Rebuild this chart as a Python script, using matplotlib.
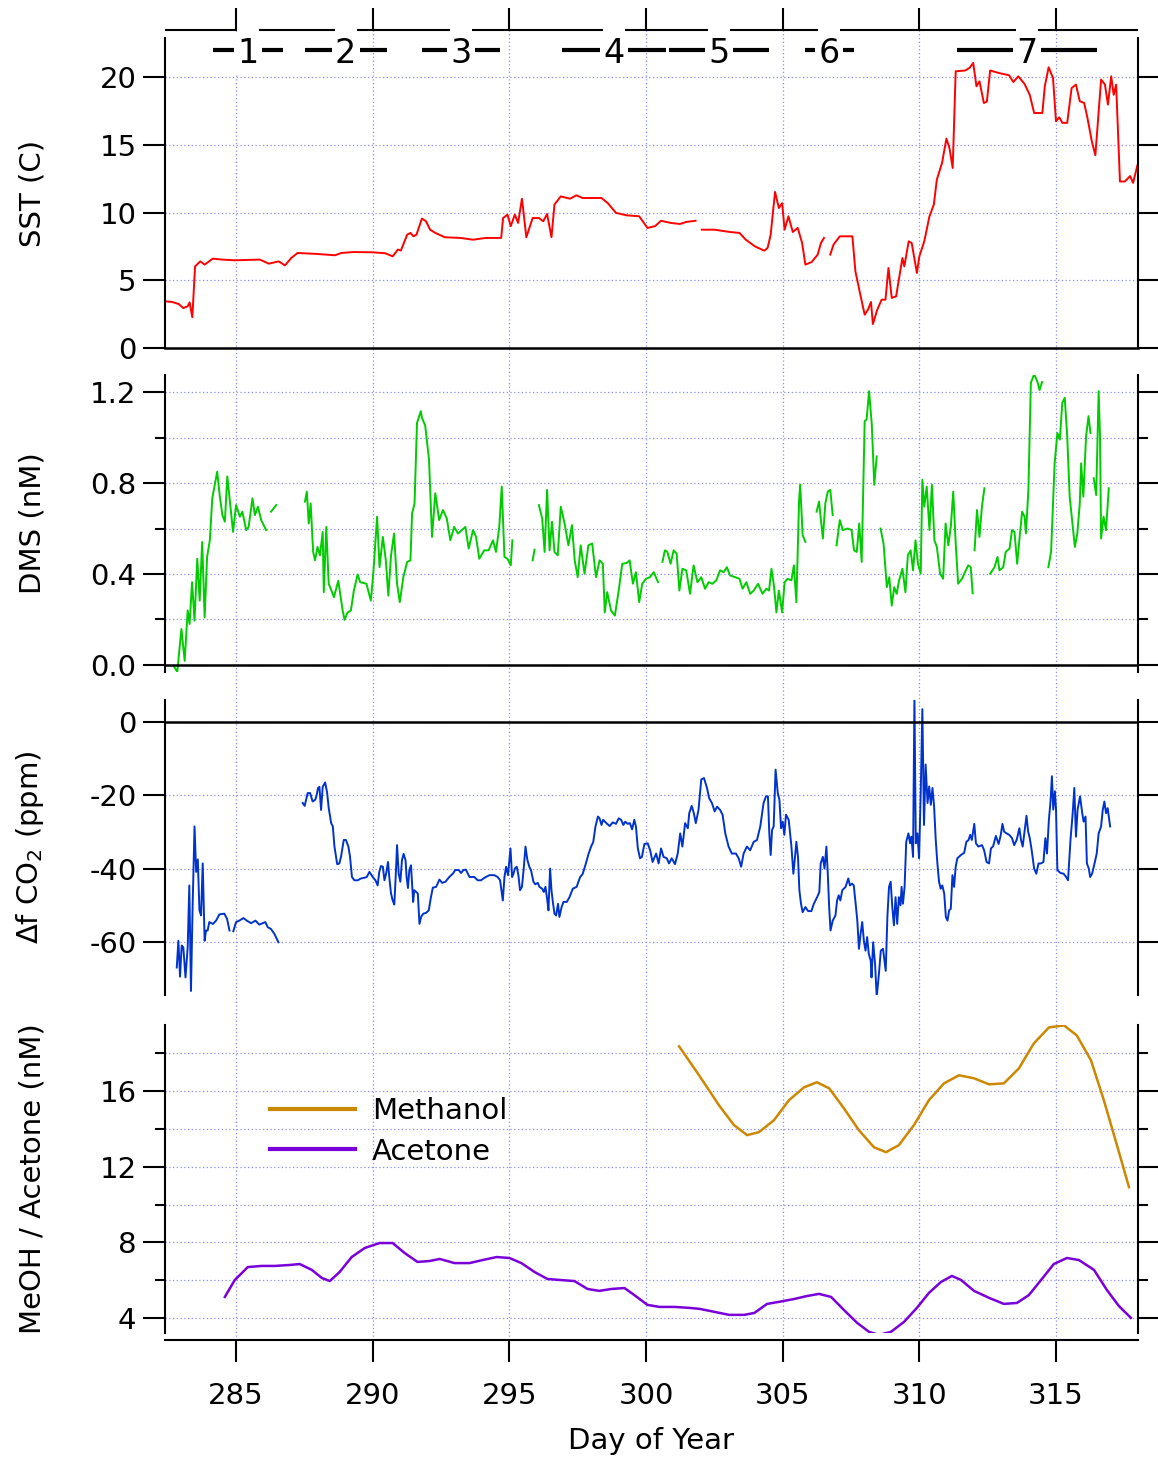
import numpy as np
import matplotlib.pyplot as plt
from matplotlib.ticker import MultipleLocator, FormatStrFormatter

plt.rcParams['font.family'] = 'DejaVu Sans'
plt.rcParams['axes.unicode_minus'] = False

nan = np.nan

# ---- data ----
sst_day = [282.39, 282.66, 282.90, 283.07, 283.23, 283.30, 283.40, 283.50, 283.69, 283.85,
           284.15, 284.50, 284.95, 285.87, 286.20, 286.56, 286.79, 287.02, 287.25, 287.94,
           288.62, 288.85, 289.30, 290.00, 290.46, 290.73, 290.92, 291.03, 291.26, 291.38,
           291.49, 291.60, 291.80, 291.95, 292.10, 292.29, 292.64, 293.21, 293.67, 294.13,
           294.70, 294.77, 294.93, 295.05, 295.20, 295.32, 295.46, 295.50, 295.62, 295.85,
           296.08, 296.24, 296.38, 296.54, 296.65, 296.88, 297.22, 297.45, 297.68, 298.37,
           298.60, 298.90, 299.29, 299.75, 300.05, 300.33, 300.55, 300.90, 301.24, 301.47,
           301.81, 301.92, 302.04, 302.50, 303.07, 303.42, 303.65, 303.99, 304.33, 304.45,
           304.56, 304.72, 304.86, 304.98, 305.07, 305.21, 305.37, 305.55, 305.71, 305.83,
           306.06, 306.28, 306.40, 306.51, 306.62, 306.74, 306.86, 307.09, 307.55, 307.66,
           307.84, 308.00, 308.12, 308.23, 308.30, 308.46, 308.62, 308.76, 308.87, 308.99,
           309.15, 309.38, 309.45, 309.61, 309.72, 309.91, 310.00, 310.18, 310.37, 310.53,
           310.64, 310.83, 310.99, 311.10, 311.22, 311.33, 311.68, 311.84, 311.97, 312.09,
           312.20, 312.36, 312.47, 312.59, 312.93, 313.28, 313.44, 313.62, 313.85, 314.04,
           314.20, 314.50, 314.59, 314.73, 314.89, 315.00, 315.12, 315.23, 315.41, 315.57,
           315.73, 315.87, 316.03, 316.15, 316.31, 316.44, 316.65, 316.79, 316.90, 317.02,
           317.11, 317.20, 317.34, 317.52, 317.71, 317.82, 317.98]
sst = [3.45, 3.40, 3.25, 2.95, 3.08, 3.37, 2.27, 6.03, 6.40, 6.16,
       6.60, 6.53, 6.48, 6.53, 6.23, 6.40, 6.10, 6.65, 7.02, 6.95,
       6.85, 7.02, 7.09, 7.07, 7.00, 6.77, 7.27, 7.20, 8.37, 8.50,
       8.25, 8.37, 9.56, 9.36, 8.74, 8.50, 8.18, 8.13, 8.00, 8.13,
       8.13, 9.60, 9.85, 9.00, 9.85, 9.24, 11.03, 10.34, 8.18, 9.60,
       9.60, 9.36, 9.90, 8.18, 10.60, 11.20, 11.03, 11.28, 11.08, 11.08,
       10.70, 9.98, 9.80, 9.73, 8.87, 9.00, 9.40, 9.24, 9.16, 9.31,
       9.40, nan, 8.74, 8.74, 8.57, 8.50, 8.00, 7.50, 7.19, 7.40,
       8.37, 11.53, 10.34, 10.70, 8.74, 9.73, 8.57, 8.87, 7.76, 6.16,
       6.35, 6.90, 7.76, 8.13, nan, 6.90, 7.64, 8.25, 8.25, 5.67,
       3.94, 2.46, 2.83, 3.40, 1.77, 2.83, 3.57, 3.57, 5.91, 3.70,
       3.82, 6.65, 6.03, 7.88, 7.76, 5.54, 6.77, 7.88, 9.73, 10.60,
       12.44, 13.67, 15.47, 14.78, 13.30, 20.44, 20.50, 20.70, 21.06, 19.33,
       19.70, 18.10, 18.20, 20.50, 20.30, 20.15, 19.65, 20.07, 19.50, 18.70,
       17.36, 17.36, 19.33, 20.74, 19.95, 16.75, 17.04, 16.63, 16.63, 19.20,
       19.46, 18.23, 18.10, 17.00, 15.27, 14.24, 19.83, 19.46, 17.98, 20.07,
       18.70, 19.46, 12.30, 12.30, 12.70, 12.20, 13.50]

dms_day = [282.71, 282.85, 283.00, 283.12, 283.23, 283.30, 283.39, 283.48, 283.58, 283.67,
           283.76, 283.85, 283.94, 284.04, 284.13, 284.22, 284.31, 284.40, 284.50, 284.59,
           284.68, 284.89, 285.00, 285.14, 285.23, 285.37, 285.46, 285.60, 285.69, 285.80,
           285.92, 286.10, 286.19, 286.28, 286.47, 287.00,
           287.52, 287.59, 287.66, 287.73, 287.82, 287.89, 287.98, 288.07, 288.17, 288.21,
           288.30, 288.39, 288.49, 288.58, 288.74, 288.90, 288.97, 289.08, 289.20, 289.31,
           289.45, 289.54, 289.77, 289.93, 290.02, 290.16, 290.25, 290.37, 290.48, 290.57,
           290.67, 290.78, 290.89, 290.99, 291.12, 291.26, 291.38, 291.44, 291.53, 291.62,
           291.76, 291.80, 291.92, 292.06, 292.17, 292.29, 292.43, 292.57, 292.71, 292.84,
           292.98, 293.12, 293.26, 293.39, 293.51, 293.67, 293.78, 293.90, 294.08, 294.24,
           294.40, 294.51, 294.63, 294.72, 294.82, 294.93, 295.05, 295.11, 295.50,
           295.85, 295.92, 296.00,
           296.08, 296.20, 296.29, 296.38, 296.47, 296.56, 296.65, 296.77, 296.88, 297.02,
           297.16, 297.29, 297.39, 297.50, 297.61, 297.75, 297.89, 298.03, 298.17, 298.30,
           298.42, 298.49, 298.58, 298.72, 298.86, 299.00, 299.13, 299.29, 299.40, 299.52,
           299.63, 299.75, 299.86, 300.00, 300.14, 300.28, 300.44, 300.52,
           300.60, 300.69, 300.78, 300.90, 301.01, 301.12, 301.22, 301.33, 301.47, 301.61,
           301.74, 301.88, 302.02, 302.16, 302.29, 302.43, 302.57, 302.71, 302.84, 302.96,
           303.07, 303.26, 303.42, 303.53, 303.67, 303.81, 303.94, 304.10, 304.26, 304.40,
           304.50, 304.59, 304.68, 304.77, 304.86, 304.98, 305.07, 305.18, 305.32, 305.41,
           305.50, 305.60, 305.64, 305.73, 305.83, 306.00,
           306.24, 306.33, 306.47, 306.56, 306.65, 306.74, 306.83, 306.90,
           306.97, 307.09, 307.20, 307.38, 307.52, 307.61, 307.71, 307.80, 307.89, 308.00,
           308.07, 308.16, 308.26, 308.35, 308.44, 308.51,
           308.58, 308.69, 308.81, 308.90, 308.99, 309.08, 309.17, 309.26, 309.38, 309.49,
           309.58, 309.68, 309.77, 309.86, 309.95, 310.05, 310.11, 310.18, 310.27, 310.37,
           310.46, 310.55, 310.64, 310.76, 310.87, 310.96, 311.06, 311.15, 311.24, 311.33,
           311.42, 311.56, 311.70, 311.79, 311.88, 311.95, 311.98,
           312.02, 312.11, 312.20, 312.29, 312.38, 312.48,
           312.59, 312.75, 312.86, 312.93, 313.07, 313.16, 313.30, 313.39, 313.48, 313.58,
           313.67, 313.76, 313.85, 313.90, 313.99, 314.08, 314.20, 314.31, 314.40, 314.49,
           314.60,
           314.72, 314.82, 314.95, 315.05, 315.14, 315.23, 315.32, 315.41, 315.50, 315.60,
           315.69, 315.78, 315.87, 315.92, 316.00, 316.10, 316.19, 316.26, 316.32,
           316.38, 316.47, 316.56, 316.61, 316.65, 316.74, 316.83, 316.93]
dms = [-0.004, -0.03, 0.158, 0.018, 0.24, 0.18, 0.364, 0.195, 0.467, 0.283,
       0.541, 0.209, 0.475, 0.548, 0.733, 0.792, 0.85, 0.747, 0.659, 0.63,
       0.829, 0.585, 0.703, 0.652, 0.674, 0.593, 0.607, 0.733, 0.659, 0.696,
       0.637, 0.593, nan, 0.674, 0.703, nan,
       0.718, 0.762, 0.622, 0.71, 0.497, 0.46, 0.519, 0.482, 0.585, 0.32,
       0.607, 0.357, 0.327, 0.298, 0.37, 0.239, 0.198, 0.231, 0.239, 0.327,
       0.398, 0.364, 0.357, 0.283, 0.401, 0.652, 0.43, 0.563, 0.46, 0.305,
       0.482, 0.578, 0.357, 0.276, 0.386, 0.453, 0.46, 0.666, 0.71, 1.064,
       1.116, 1.087, 1.053, 0.902, 0.563, 0.755, 0.637, 0.681, 0.644, 0.548,
       0.607, 0.578, 0.593, 0.607, 0.512, 0.593, 0.563, 0.467, 0.504, 0.504,
       0.548, 0.497, 0.607, 0.784, 0.475, 0.467, 0.438, 0.548, nan,
       0.46, 0.507, nan,
       0.703, 0.644, 0.497, 0.77, 0.504, 0.63, 0.497, 0.482, 0.696, 0.622,
       0.526, 0.615, 0.46, 0.386, 0.526, 0.401, 0.526, 0.534, 0.386, 0.46,
       0.445, 0.231, 0.32, 0.239, 0.217, 0.327, 0.445, 0.448, 0.46, 0.357,
       0.408, 0.276, 0.357, 0.379, 0.386, 0.408, 0.364, nan,
       0.453, 0.504, 0.497, 0.445, 0.504, 0.489, 0.327, 0.423, 0.416, 0.313,
       0.438, 0.364, 0.386, 0.335, 0.364, 0.357, 0.372, 0.416, 0.408, 0.43,
       0.394, 0.386, 0.379, 0.335, 0.364, 0.313, 0.327, 0.357, 0.313, 0.335,
       0.327, 0.423, 0.349, 0.231, 0.327, 0.231, 0.364, 0.379, 0.372, 0.438,
       0.276, 0.725, 0.792, 0.571, 0.541, nan,
       0.674, 0.718, 0.556, 0.71, 0.762, 0.77, 0.659, nan,
       0.526, 0.637, 0.593, 0.6, 0.593, 0.504, 0.497, 0.622, 0.453, 1.072,
       1.079, 1.204, 1.057, 0.792, 0.917, nan,
       0.6, 0.534, 0.342, 0.386, 0.261, 0.342, 0.313, 0.372, 0.423, 0.32,
       0.482, 0.504, 0.416, 0.548, 0.445, 0.401, 0.814, 0.696, 0.784, 0.593,
       0.792, 0.548, 0.519, 0.401, 0.379, 0.622, 0.526, 0.607, 0.762, 0.534,
       0.357, 0.379, 0.416, 0.438, 0.43, 0.315, nan,
       0.504, 0.681, 0.563, 0.696, 0.777, nan,
       0.401, 0.43, 0.475, 0.416, 0.43, 0.497, 0.512, 0.593, 0.585, 0.445,
       0.563, 0.674, 0.652, 0.578, 0.77, 1.241, 1.278, 1.249, 1.209, 1.244,
       nan,
       0.43, 0.497, 0.887, 1.02, 0.991, 1.153, 1.175, 1.005, 0.74, 0.622,
       0.519, 0.578, 0.71, 0.887, 0.74, 1.005, 1.094, 1.02, nan,
       0.821, 0.747, 1.204, 1.005, 0.556, 0.652, 0.593, 0.777]

co2_day = [282.83, 282.89, 282.95, 283.01, 283.07, 283.15, 283.23, 283.29, 283.35, 283.41,
           283.48, 283.54, 283.60, 283.66, 283.72, 283.78, 283.85, 283.90, 283.96, 284.02,
           284.15, 284.27, 284.39, 284.57, 284.67, 284.76, 284.83,
           284.90, 285.00, 285.12, 285.27, 285.39, 285.55, 285.71, 285.85, 286.07, 286.16,
           286.28, 286.40, 286.55, 287.00,
           287.44, 287.51, 287.62, 287.71, 287.80, 287.90, 287.95, 288.00, 288.05, 288.11,
           288.17, 288.26, 288.33, 288.39, 288.48, 288.54, 288.60, 288.70, 288.78, 288.84,
           288.94, 289.02, 289.11, 289.17, 289.24, 289.33, 289.45, 289.57, 289.70, 289.78,
           289.88, 290.00, 290.10, 290.18, 290.24, 290.30, 290.37, 290.43, 290.49, 290.56,
           290.61, 290.67, 290.73, 290.79, 290.84, 290.89, 290.95, 291.01, 291.07, 291.13,
           291.20, 291.24, 291.29, 291.34, 291.40, 291.44, 291.48, 291.52, 291.59, 291.65,
           291.71, 291.77, 291.85, 291.95, 292.05, 292.13, 292.20, 292.32, 292.44, 292.54,
           292.66, 292.80, 292.93, 293.02, 293.15, 293.23, 293.32, 293.41, 293.54, 293.72,
           293.84, 293.96, 294.09, 294.27, 294.45, 294.57, 294.66, 294.76, 294.82, 294.88,
           294.95, 295.04, 295.10, 295.15, 295.20, 295.27, 295.33, 295.39, 295.46, 295.52,
           295.59, 295.66, 295.73, 295.79, 295.88, 295.95, 296.04, 296.10, 296.20, 296.26,
           296.32, 296.38, 296.43, 296.49, 296.54, 296.59, 296.65, 296.71, 296.78, 296.83,
           296.91, 296.98, 297.10, 297.20, 297.32, 297.46, 297.59, 297.68, 297.80, 297.90,
           297.99, 298.07, 298.15, 298.24, 298.30, 298.37, 298.43, 298.55, 298.67, 298.78,
           298.90, 299.00, 299.09, 299.17, 299.24, 299.33, 299.41, 299.49, 299.57, 299.63,
           299.70, 299.78, 299.85, 299.94, 300.06, 300.15, 300.24, 300.37, 300.46, 300.55,
           300.64, 300.76, 300.84, 300.94, 301.06, 301.16, 301.25, 301.33, 301.43, 301.53,
           301.58, 301.67, 301.75, 301.82, 301.92, 302.02, 302.12, 302.23, 302.31, 302.41,
           302.51, 302.60, 302.71, 302.80, 302.90, 303.02, 303.14, 303.29, 303.39, 303.48,
           303.57, 303.69, 303.81, 303.94, 304.06, 304.18, 304.30, 304.39, 304.46, 304.51,
           304.56, 304.61, 304.67, 304.74, 304.82, 304.88, 304.94, 305.00, 305.06, 305.12,
           305.22, 305.32, 305.39, 305.44, 305.50, 305.56, 305.61, 305.67, 305.73, 305.83,
           305.93, 306.05, 306.14, 306.26, 306.34, 306.39, 306.47, 306.53, 306.60, 306.65,
           306.70, 306.75, 306.83, 306.93, 306.99, 307.05, 307.11, 307.18, 307.30, 307.40,
           307.46, 307.54, 307.60, 307.67, 307.73, 307.79, 307.85, 307.91, 307.97, 308.03,
           308.09, 308.15, 308.22, 308.25, 308.31, 308.38, 308.44, 308.52, 308.59, 308.67,
           308.77, 308.83, 308.89, 308.95, 309.01, 309.07, 309.13, 309.19, 309.25, 309.31,
           309.35, 309.40, 309.46, 309.52, 309.60, 309.66, 309.71, 309.77, 309.82, 309.87,
           309.93, 309.99, 310.05, 310.11, 310.17, 310.23, 310.30, 310.36, 310.42, 310.48,
           310.54, 310.60, 310.66, 310.72, 310.78, 310.84, 310.91, 310.97, 311.03, 311.09,
           311.15, 311.21, 311.27, 311.33, 311.39, 311.52, 311.64, 311.72, 311.80, 311.86,
           311.92, 312.01, 312.07, 312.16, 312.29, 312.37, 312.46, 312.55, 312.62, 312.70,
           312.80, 312.90, 312.98, 313.04, 313.10, 313.19, 313.29, 313.39, 313.47, 313.56,
           313.66, 313.72, 313.78, 313.84, 313.92, 313.98, 314.04, 314.11, 314.20, 314.28,
           314.36, 314.45, 314.54, 314.61, 314.67, 314.74, 314.80, 314.85, 314.90, 314.96,
           315.00, 315.05, 315.16, 315.28, 315.37, 315.44, 315.53, 315.61, 315.67, 315.73,
           315.79, 315.88, 315.96, 316.01, 316.08, 316.13, 316.20, 316.25, 316.32, 316.41,
           316.49, 316.56, 316.65, 316.71, 316.77, 316.83, 316.89, 316.98]
co2 = [-67.0, -59.7, -69.5, -61.0, -61.5, -69.7, -61.5, -44.6, -73.4, -50.5,
       -28.5, -40.9, -37.5, -51.4, -52.8, -38.6, -59.7, -56.9, -56.9, -54.6,
       -55.1, -54.2, -52.5, -52.3, -53.7, -56.9, nan,
       -57.1, -54.6, -54.2, -53.5, -54.2, -54.9, -54.2, -55.3, -54.6, -56.0,
       -56.5, -57.8, -60.1, nan,
       -22.1, -22.9, -19.4, -19.4, -21.7, -21.2, -19.9, -18.0, -17.7, -24.0,
       -17.7, -16.5, -19.2, -23.5, -27.6, -28.5, -34.0, -38.8, -38.6, -36.8,
       -32.2, -32.2, -34.0, -36.8, -42.3, -43.2, -43.2, -42.7, -42.5, -42.3,
       -40.9, -42.3, -43.2, -44.6, -40.9, -39.3, -39.5, -43.2, -41.4, -38.2,
       -42.7, -46.8, -48.7, -49.8, -42.3, -33.6, -41.4, -43.6, -37.7, -36.0,
       -37.7, -42.3, -45.3, -40.4, -39.1, -44.1, -49.1, -45.9, -46.4, -46.8,
       -55.1, -53.2, -52.3, -52.1, -51.4, -47.8, -45.2, -45.0, -43.0, -43.9,
       -43.6, -42.3, -41.4, -40.4, -40.4, -41.2, -40.4, -40.3, -42.3, -42.3,
       -43.2, -43.2, -42.5, -41.8, -41.8, -42.3, -43.2, -48.7, -42.3, -39.5,
       -41.8, -34.5, -42.3, -41.4, -40.0, -39.5, -41.8, -45.9, -45.0, -40.4,
       -34.0, -37.7, -39.5, -40.4, -43.6, -44.3, -43.9, -45.0, -45.5, -46.4,
       -45.0, -48.2, -51.4, -40.0, -45.9, -49.1, -52.3, -52.8, -49.6, -53.2,
       -50.5, -49.1, -49.1, -47.8, -45.5, -45.0, -42.3, -41.5, -38.6, -35.9,
       -34.0, -32.7, -28.5, -25.8, -26.3, -28.1, -26.7, -27.6, -28.4, -27.4,
       -27.8, -26.3, -26.7, -28.1, -27.2, -27.8, -27.6, -29.3, -26.7, -28.5,
       -34.5, -37.2, -36.8, -33.3, -33.1, -35.0, -38.2, -35.9, -38.6, -34.5,
       -36.8, -37.2, -38.6, -37.2, -38.8, -35.9, -30.4, -34.0, -27.6, -29.0,
       -24.9, -22.9, -24.9, -27.6, -24.0, -15.7, -15.3, -18.0, -20.8, -22.1,
       -24.4, -23.1, -24.0, -25.3, -30.4, -34.0, -35.9, -35.9, -37.2, -39.5,
       -35.9, -34.0, -35.0, -32.7, -32.2, -28.5, -22.1, -20.3, -20.3, -30.4,
       -36.3, -29.5, -28.5, -13.0, -19.4, -21.2, -29.0, -27.2, -30.8, -25.3,
       -26.7, -34.0, -41.4, -37.7, -32.7, -36.8, -45.9, -49.6, -51.9, -50.5,
       -51.6, -51.6, -49.6, -47.8, -46.4, -38.6, -36.8, -40.0, -34.0, -41.4,
       -50.5, -56.9, -54.2, -52.8, -48.7, -47.3, -48.7, -45.9, -45.0, -42.7,
       -44.6, -44.1, -44.6, -49.6, -54.2, -61.9, -57.8, -54.6, -59.7, -62.4,
       -58.7, -63.3, -65.1, -69.7, -60.1, -66.1, -75.0, -68.8, -62.4, -61.9,
       -67.9, -53.2, -45.0, -43.6, -50.5, -55.5, -47.8, -55.1, -47.8, -50.0,
       -45.0, -49.6, -45.0, -32.7, -30.4, -33.1, -31.3, -36.8, 6.7, -33.1,
       -30.4, -37.2, -19.4, 3.5, -28.1, -11.6, -22.1, -17.6, -22.6, -18.0,
       -23.1, -32.2, -38.6, -43.6, -45.5, -44.6, -46.8, -53.2, -54.2, -51.4,
       -51.0, -41.8, -45.0, -39.5, -37.2, -36.3, -35.7, -32.7, -32.2, -30.8,
       -32.2, -27.8, -33.1, -34.0, -33.6, -35.0, -38.2, -38.6, -34.5, -33.9,
       -31.1, -33.3, -30.8, -27.8, -29.9, -30.4, -30.8, -31.7, -33.6, -32.2,
       -29.0, -32.2, -34.0, -30.4, -25.6, -29.9, -31.7, -35.0, -40.0, -41.4,
       -38.6, -38.6, -38.2, -31.7, -35.9, -26.7, -21.6, -14.8, -23.9, -18.9,
       -23.9, -40.4, -41.2, -41.4, -42.3, -43.2, -32.2, -24.9, -18.0, -31.3,
       -23.9, -20.3, -24.9, -27.2, -25.8, -38.6, -40.0, -42.3, -41.4, -38.6,
       -35.9, -30.4, -28.5, -24.0, -21.7, -24.9, -23.5, -28.5]

meoh_day = [301.21, 301.94, 302.67, 303.22, 303.70, 304.13, 304.68, 305.23, 305.78, 306.25,
            306.70, 307.24, 307.79, 308.34, 308.78, 309.25, 309.80, 310.35, 310.90, 311.45,
            312.00, 312.55, 313.09, 313.64, 314.19, 314.74, 315.29, 315.76, 316.28, 316.75,
            317.23, 317.67]
meoh = [18.37, 16.84, 15.25, 14.20, 13.67, 13.83, 14.46, 15.52, 16.20, 16.47,
        16.15, 15.09, 13.93, 13.03, 12.77, 13.14, 14.20, 15.52, 16.41, 16.84,
        16.68, 16.36, 16.41, 17.20, 18.53, 19.37, 19.48, 18.95, 17.63, 15.52,
        13.14, 10.92]

acet_day = [284.59, 284.95, 285.43, 285.94, 286.42, 286.96, 287.33, 287.77, 288.14, 288.43,
            288.79, 289.23, 289.71, 290.25, 290.73, 291.17, 291.64, 292.08, 292.45, 292.99,
            293.54, 294.02, 294.53, 295.00, 295.44, 295.92, 296.39, 296.90, 297.38, 297.86,
            298.29, 298.73, 299.21, 299.57, 300.05, 300.49, 301.04, 301.58, 301.95, 302.50,
            303.04, 303.59, 303.96, 304.43, 304.87, 305.42, 305.90, 306.33, 306.77, 307.24,
            307.72, 308.16, 308.52, 308.96, 309.44, 309.91, 310.35, 310.79, 311.19, 311.52,
            312.00, 312.55, 313.09, 313.57, 314.01, 314.45, 314.92, 315.40, 315.84, 316.39,
            316.86, 317.30, 317.74]
acet = [5.11, 6.00, 6.69, 6.75, 6.75, 6.80, 6.85, 6.54, 6.11, 5.95,
        6.43, 7.22, 7.70, 7.96, 7.96, 7.43, 6.96, 7.01, 7.12, 6.90,
        6.90, 7.06, 7.22, 7.17, 6.90, 6.43, 6.06, 6.00, 5.95, 5.53,
        5.43, 5.53, 5.58, 5.21, 4.69, 4.58, 4.58, 4.53, 4.48, 4.32,
        4.16, 4.16, 4.26, 4.74, 4.85, 5.00, 5.16, 5.27, 5.11, 4.42,
        3.74, 3.26, 3.10, 3.26, 3.79, 4.53, 5.32, 5.90, 6.22, 6.01,
        5.43, 5.06, 4.74, 4.79, 5.21, 6.00, 6.85, 7.17, 7.06, 6.54,
        5.48, 4.63, 4.00]

leg_names = ['1', '2', '3', '4', '5', '6', '7']
leg_start = [284.15, 287.51, 291.79, 296.94, 300.85, 305.82, 311.38]
leg_end = [286.71, 290.51, 294.67, 300.74, 304.50, 307.60, 316.49]

xmin, xmax = 282.4, 318.0
W, H = 1158, 1462
grid_c = '#8c8cff'


def panel_rect(top, bottom):
    return [165 / W, 1 - bottom / H, 973 / W, (bottom - top) / H]


fig = plt.figure(figsize=(W / 100, H / 100), dpi=100)

# background axes carrying the vertical day grid across all panels
bg = fig.add_axes(panel_rect(30, 1340))
bg.set_xlim(xmin, xmax)
bg.xaxis.set_major_locator(MultipleLocator(5))
bg.grid(axis='x', color=grid_c, linestyle=(0, (1, 2)), linewidth=0.9)
bg.tick_params(left=False, bottom=False, labelleft=False, labelbottom=False)
bg.set_yticks([])
for s in bg.spines.values():
    s.set_visible(False)


def style(ax, ylim, major, minor=None, fmt=None):
    ax.set_facecolor('none')
    ax.set_xlim(xmin, xmax)
    ax.set_ylim(*ylim)
    ax.xaxis.set_major_locator(MultipleLocator(5))
    ax.yaxis.set_major_locator(MultipleLocator(major))
    if minor:
        ax.yaxis.set_minor_locator(MultipleLocator(minor))
    if fmt:
        ax.yaxis.set_major_formatter(FormatStrFormatter(fmt))
    ax.tick_params(axis='y', which='major', direction='out', length=15.5, width=1.5,
                   labelsize=21, left=True, right=True, pad=5)
    ax.tick_params(axis='y', which='minor', direction='out', length=7.5, width=1.5,
                   left=True, right=True)
    ax.tick_params(axis='x', which='both', bottom=False, labelbottom=False)
    ax.grid(axis='y', which='both', color=grid_c, linestyle=(0, (1, 2)), linewidth=0.9)
    ax.spines['top'].set_visible(False)
    ax.spines['bottom'].set_visible(False)
    ax.spines['left'].set_linewidth(1.5)
    ax.spines['right'].set_linewidth(1.5)
    ax.yaxis.set_label_coords(-0.122, 0.5)


# SST
ax1 = fig.add_axes(panel_rect(38, 348))
style(ax1, (0, 22.9), 5)
ax1.plot(sst_day, sst, color='#ff0000', lw=1.4)
ax1.axhline(0, color='k', lw=1.8, clip_on=False)
ax1.set_ylabel('SST (C)', fontsize=21)
ax1.spines['top'].set_position(('outward', 5.8))
ax1.tick_params(axis='x', which='major', top=True, direction='out', length=15.5,
                width=1.5, labeltop=False)
# cruise legs above the SST panel
leg_mid = (np.array(leg_start) + np.array(leg_end)) / 2
edges = np.concatenate([[xmin], np.ravel(np.column_stack([leg_mid - 0.4, leg_mid + 0.4])), [xmax]])
ax1.hlines(np.full(len(edges) // 2, 1 + 8 / 310), edges[0::2], edges[1::2],
           transform=ax1.get_xaxis_transform(), color='k', lw=1.5, clip_on=False)
ax1.hlines(np.full(len(leg_start), 1 - 12 / 310), leg_start, leg_end,
           transform=ax1.get_xaxis_transform(), color='k', lw=3, clip_on=False)
for name, m in zip(leg_names, leg_mid):
    ax1.text(m, 1 - 12 / 310, name, transform=ax1.get_xaxis_transform(), ha='center',
             va='center_baseline', fontsize=24, zorder=5,
             bbox=dict(boxstyle='square,pad=0.1', fc='white', ec='none'))

# DMS
ax2 = fig.add_axes(panel_rect(375, 672))
style(ax2, (-0.031, 1.275), 0.4, 0.2, '%.1f')
ax2.plot(dms_day, dms, color='#00cc00', lw=1.4)
ax2.axhline(0, color='k', lw=1.8)
ax2.set_ylabel('DMS (nM)', fontsize=21)

# CO2
ax3 = fig.add_axes(panel_rect(700, 995))
style(ax3, (-74.5, 6), 20)
ax3.plot(co2_day, co2, color='#0033cc', lw=1.4)
ax3.axhline(0, color='k', lw=1.8)
ax3.set_ylabel(r'$\Delta$f CO$_2$ (ppm)', fontsize=21)

# MeOH / acetone
ax4 = fig.add_axes(panel_rect(1025, 1333))
style(ax4, (3.2, 19.5), 4, 2)
ax4.plot(meoh_day, meoh, color='#cc8800', lw=1.8, label='Methanol')
ax4.plot(acet_day, acet, color='#7a00d9', lw=1.8, label='Acetone')
ax4.set_ylabel('MeOH / Acetone (nM)', fontsize=21)
ax4.spines['bottom'].set_visible(True)
ax4.spines['bottom'].set_linewidth(1.5)
ax4.spines['bottom'].set_position(('outward', 5))
ax4.tick_params(axis='x', which='major', bottom=True, labelbottom=True, direction='out',
                length=15.5, width=1.5, labelsize=21, pad=15)
ax4.set_xlabel('Day of Year', fontsize=21, labelpad=12)
leg = ax4.legend(loc='upper left', bbox_to_anchor=(0.108, 0.765), frameon=False,
                 fontsize=21, handlelength=2.9, handletextpad=0.6, labelspacing=0.42,
                 borderpad=0, borderaxespad=0)
for ln in leg.get_lines():
    ln.set_linewidth(3)

plt.savefig('out.png', dpi=100)
